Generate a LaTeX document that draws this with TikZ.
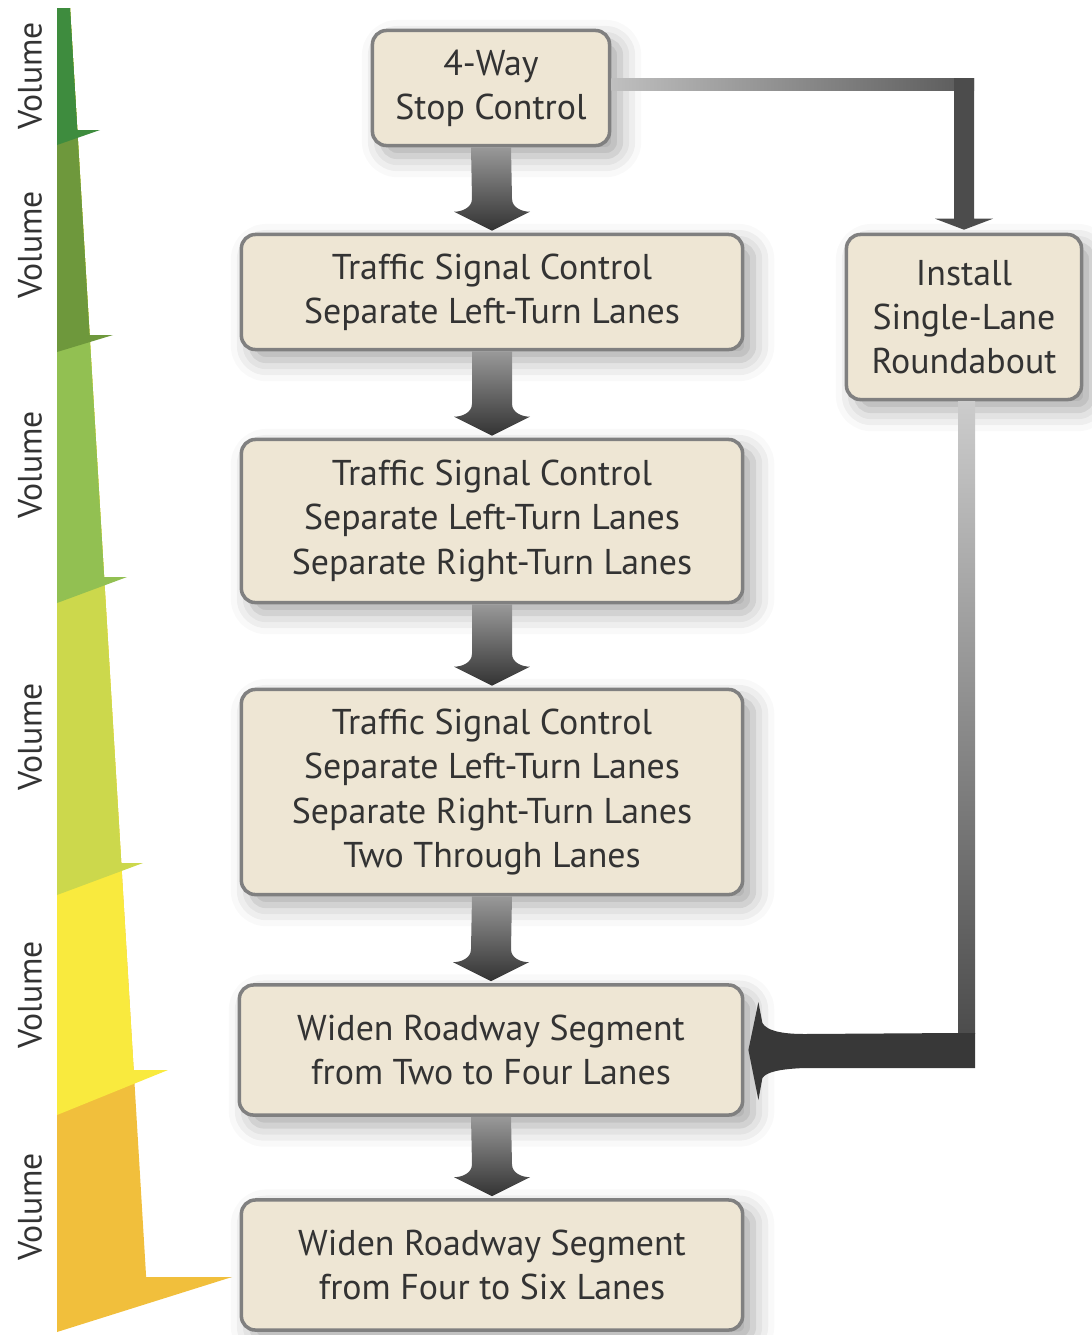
\documentclass[tikz,border=0pt]{standalone}
\usepackage{fontspec}
\setmainfont{PT Sans}
\usetikzlibrary{calc,shadows.blur}

\definecolor{boxfill}{RGB}{238,230,212}
\definecolor{vola}{RGB}{62,140,62}
\definecolor{volb}{RGB}{110,152,60}
\definecolor{volc}{RGB}{146,192,82}
\definecolor{vold}{RGB}{204,216,76}
\definecolor{vole}{RGB}{249,234,62}
\definecolor{volf}{RGB}{241,191,60}

% fat shaded arrow pointing down, from one box to the next
\newcommand{\fatdown}[2]{%
  \shade[top color=black!40, bottom color=black!80]
    ($(#1.south)+(-20,0)$) -- ($(#2.north)+(-20,-34)$)
    .. controls ($(#2.north)+(-20,-25)$) and ($(#2.north)+(-30,-21)$) .. ($(#2.north)+(-38,-21)$)
    -- ($(#2.north)+(0,-2)$) -- ($(#2.north)+(38,-21)$)
    .. controls ($(#2.north)+(30,-21)$) and ($(#2.north)+(20,-25)$) .. ($(#2.north)+(20,-34)$)
    -- ($(#1.south)+(20,0)$) -- cycle;}

\begin{document}
\begin{tikzpicture}[
  x=0.01cm, y=-0.01cm,
  stepbox/.style={draw=black!50, line width=1pt, fill=boxfill, rounded corners=4pt,
    align=center, inner sep=0pt, text=black!80,
    font=\fontsize{10.2}{12.6}\selectfont,
    blur shadow={shadow xshift=3pt, shadow yshift=-3pt, shadow blur radius=6pt, shadow opacity=35}},
  vol/.style={rotate=90, inner sep=0pt, text=black!80, font=\fontsize{9.6}{12}\selectfont},
  ]
  \useasboundingbox (0,0) rectangle (1092,1335);

  %% Volume wedge, painted bottom band first
  \foreach \col/\yt/\xt/\yl in {volf/1277/232/1332, vole/1070/168/1115,
      vold/863/143/895, volc/577/127/603, volb/335/113/352, vola/130/100/145}
    \fill[\col] (57,8) -- (70,8) -- ({70+0.06*(\yt-8)},\yt) -- (\xt,\yt) -- (57,\yl) -- cycle;

  \node[vol] (vola) at (30,76) {Volume};
  \node[vol] (volb) at (30,245) {Volume};
  \node[vol] (volc) at (30,465) {Volume};
  \node[vol] (vold) at (30,737) {Volume};
  \node[vol] (vole) at (30,995) {Volume};
  \node[vol] (volf) at (30,1207) {Volume};

  %% Boxes
  \node[stepbox, minimum width=2.37cm, minimum height=1.15cm] (stop) at (491,88)
    {4-Way\\Stop Control};
  \node[stepbox, minimum width=5.01cm, minimum height=1.15cm] (sigA) at (492,292)
    {Traffic Signal Control\\Separate Left-Turn Lanes};
  \node[stepbox, minimum width=5.01cm, minimum height=1.63cm] (sigB) at (492,521)
    {Traffic Signal Control\\Separate Left-Turn Lanes\\Separate Right-Turn Lanes};
  \node[stepbox, minimum width=5.01cm, minimum height=2.05cm] (sigC) at (492,792)
    {Traffic Signal Control\\Separate Left-Turn Lanes\\Separate Right-Turn Lanes\\Two Through Lanes};
  \node[stepbox, minimum width=5.03cm, minimum height=1.30cm] (widA) at (491,1050)
    {Widen Roadway Segment\\from Two to Four Lanes};
  \node[stepbox, minimum width=5.01cm, minimum height=1.30cm] (widB) at (492,1265)
    {Widen Roadway Segment\\from Four to Six Lanes};
  \node[stepbox, minimum width=2.35cm, minimum height=1.65cm] (round) at (964,317)
    {Install\\Single-Lane\\Roundabout};

  %% Main chain
  \fatdown{stop}{sigA}
  \fatdown{sigA}{sigB}
  \fatdown{sigB}{sigC}
  \fatdown{sigC}{widA}
  \fatdown{widA}{widB}

  %% Branch to the roundabout
  \coordinate (cornA) at (stop.east -| round.north);
  \shade[left color=black!25, right color=black!65]
    ($(stop.east)+(0,-10)$) rectangle ($(cornA)+(10,2)$);
  \fill[black!70]
    ($(cornA)+(-10,2)$) -- ($(cornA)+(-10,-10)$) -- ($(cornA)+(10,-10)$)
    -- ($(round.north)+(10,-14)$) -- ($(round.north)+(29,-14)$)
    -- ($(round.north)+(0,-3)$) -- ($(round.north)+(-29,-14)$)
    -- ($(round.north)+(-10,-14)$) -- cycle;

  %% Roundabout back into the widening step
  \coordinate (cornB) at (round.south |- widA.east);
  \shade[top color=black!20, bottom color=black!70]
    ($(round.south)+(-6,0)$) rectangle ($(cornB)+(11,-17)$);
  \fill[black!78]
    ($(cornB)+(-6,-17)$) -- ($(cornB)+(11,-17)$) -- ($(cornB)+(11,18)$)
    -- ($(widA.east)+(60,18)$)
    .. controls ($(widA.east)+(35,19)$) and ($(widA.east)+(22,22)$) .. ($(widA.east)+(18,28)$)
    -- ($(widA.east)+(14,50)$) -- ($(widA.east)+(4,0)$) -- ($(widA.east)+(14,-48)$)
    -- ($(widA.east)+(18,-27)$)
    .. controls ($(widA.east)+(22,-20)$) and ($(widA.east)+(35,-16)$) .. ($(widA.east)+(60,-16)$)
    -- cycle;
\end{tikzpicture}
\end{document}
